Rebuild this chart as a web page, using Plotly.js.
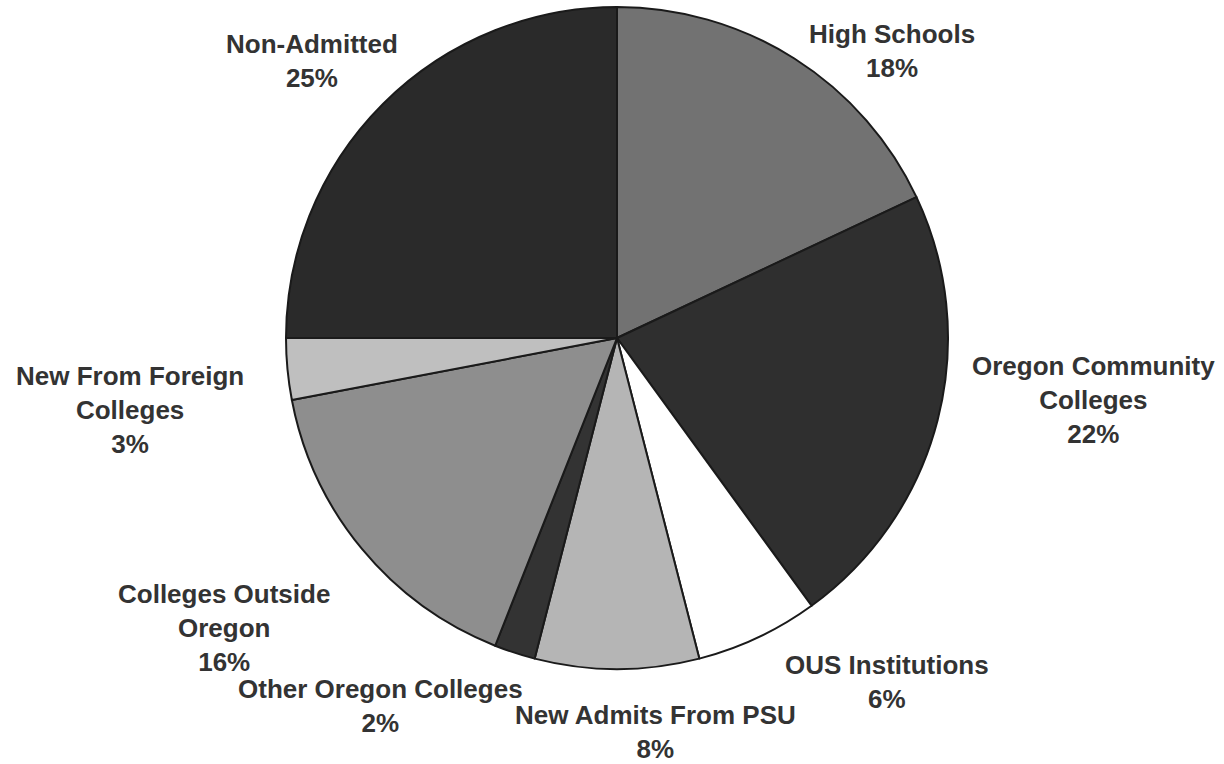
<!DOCTYPE html>
<html>
<head>
<meta charset="utf-8">
<script src="https://cdn.plot.ly/plotly-3.0.1.min.js"></script>
<style>html,body{margin:0;padding:0;background:#fff;}#chart{width:1224px;height:764px;}</style>
</head>
<body>
<div id="chart"></div>
<script>
const categories = ["High Schools", "Oregon Community Colleges", "OUS Institutions", "New Admits From PSU", "Other Oregon Colleges", "Colleges Outside Oregon", "New From Foreign Colleges", "Non-Admitted"];
const labelLines = ["High Schools", "Oregon Community<br>Colleges", "OUS Institutions", "New Admits From PSU", "Other Oregon Colleges", "Colleges Outside<br>Oregon", "New From Foreign<br>Colleges", "Non-Admitted"];
const percents = [18, 22, 6, 8, 2, 16, 3, 25];
const sliceColors = ["#727272", "#2f2f2f", "#ffffff", "#b5b5b5", "#333333", "#8e8e8e", "#bfbfbf", "#2a2a2a"];
// label block centres in pixels (layout only)
const labelPos = [[892, 51], [1093, 400], [887, 682], [655, 732], [380, 706], [224, 628], [130, 410], [312, 61]];

const W = 1224, H = 764;
const cx = 617, cy = 338, r = 331;

const trace = {
  type: "pie",
  labels: categories,
  values: percents,
  sort: false,
  direction: "clockwise",
  rotation: 0,
  textinfo: "none",
  hoverinfo: "label+percent",
  marker: {colors: sliceColors, line: {color: "#1a1a1a", width: 2}},
  domain: {x: [(cx - r) / W, (cx + r) / W], y: [1 - (cy + r) / H, 1 - (cy - r) / H]},
  showlegend: false
};

const annotations = categories.map((c, i) => ({
  text: labelLines[i] + "<br>" + percents[i] + "%",
  x: labelPos[i][0] / W,
  y: 1 - labelPos[i][1] / H,
  xref: "paper", yref: "paper",
  xanchor: "center", yanchor: "middle",
  align: "center",
  showarrow: false,
  font: {family: "Liberation Sans, Arial, sans-serif", size: 26, color: "#333333", weight: "bold"}
}));

Plotly.newPlot("chart", [trace], {
  width: W, height: H,
  margin: {l: 0, r: 0, t: 0, b: 0},
  paper_bgcolor: "#ffffff",
  annotations: annotations
}, {displayModeBar: false, staticPlot: true});
</script>
</body>
</html>
